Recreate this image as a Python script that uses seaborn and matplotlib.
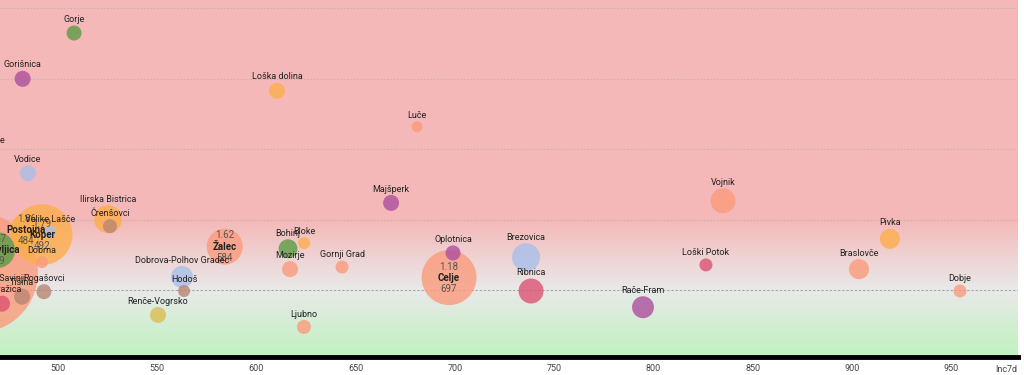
import matplotlib
matplotlib.use("Agg")
import matplotlib.pyplot as plt
from matplotlib import font_manager
from matplotlib.colors import LinearSegmentedColormap
import numpy as np
import pandas as pd
import seaborn as sns

# Data: municipality, 7-day incidence, ratio, bubble size, region
names = ['Velenje', 'Koper', 'Celje', 'Žalec', 'Postojna', 'Radovljica',
         'Ilirska Bistrica', 'Brezovica', 'Vojnik', 'Ribnica',
         'Dobrova-Polhov Gradec', 'Rače-Fram', 'Pivka', 'Braslovče', 'Bohinj',
         'Gorišnica', 'Loška dolina', 'Vodice', 'Majšperk', 'Mozirje',
         'Renče-Vogrsko', 'Gorje', 'Oplotnica', 'Ljubno', 'Rogašovci',
         'Črenšovci', 'Loški Potok', 'Gornji Grad', 'Dobje', 'Hodoš', 'Bloke',
         'Dobrna', 'Velike Lašče', 'Luče', 'Rečica ob Savinji', 'Tišina',
         'Sodražica', 'Moravče']
inc7d = [459.7, 492, 697, 584, 484, 469.3,
         525.2, 735.8, 835.0, 738.3,
         562.5, 794.7, 919.1, 903.5, 615.9,
         482.2, 610.3, 484.9, 667.8, 616.9,
         550.4, 508.1, 699.0, 623.9, 492.9,
         526.2, 826.4, 643.1, 954.4, 563.5, 624.0,
         491.9, 496.0, 680.9, 466.7, 481.9,
         471.8, 464.7]
ratio = [1.25, 1.79, 1.18, 1.62, 1.86, 1.57,
         2.01, 1.47, 2.27, 0.99,
         1.19, 0.76, 1.73, 1.30, 1.59,
         4.00, 3.83, 2.66, 2.24, 1.30,
         0.65, 4.65, 1.53, 0.48, 0.98,
         1.91, 1.36, 1.33, 0.99, 0.99, 1.67,
         1.40, 1.83, 3.32, 0.98, 0.91,
         0.81, 2.96]
size = [233000, 60000, 49000, 21000, 17000, 21000,
        12700, 12700, 10100, 10100,
        7800, 7800, 6500, 6500, 5800,
        4150, 4150, 4150, 4150, 4150,
        4150, 3650, 3650, 3200, 3650,
        3200, 2750, 2750, 2750, 2350, 2350,
        2350, 2350, 1950, 3200, 4150,
        4150, 2350]
region = ['Savinjska', 'Obalno-kraška', 'Savinjska', 'Savinjska', 'Primorsko-notranjska', 'Gorenjska',
          'Primorsko-notranjska', 'Osrednjeslovenska', 'Savinjska', 'Jugovzhodna',
          'Osrednjeslovenska', 'Podravska', 'Primorsko-notranjska', 'Savinjska', 'Gorenjska',
          'Podravska', 'Primorsko-notranjska', 'Osrednjeslovenska', 'Podravska', 'Savinjska',
          'Goriška', 'Gorenjska', 'Podravska', 'Savinjska', 'Pomurska',
          'Pomurska', 'Jugovzhodna', 'Savinjska', 'Savinjska', 'Pomurska', 'Primorsko-notranjska',
          'Savinjska', 'Osrednjeslovenska', 'Savinjska', 'Savinjska', 'Pomurska',
          'Jugovzhodna', 'Osrednjeslovenska']

region_colors = {
    'Savinjska': '#fb9b7c',
    'Primorsko-notranjska': '#fdae4b',
    'Obalno-kraška': '#fdae4b',
    'Gorenjska': '#5a9c45',
    'Podravska': '#ad4f9f',
    'Osrednjeslovenska': '#a9bfe9',
    'Jugovzhodna': '#dd5274',
    'Pomurska': '#b88672',
    'Goriška': '#dcbd55',
}

x_ticks = [500, 550, 600, 650, 700, 750, 800, 850, 900, 950]

df = pd.DataFrame({'name': names, 'Inc7d': inc7d, 'ratio': ratio,
                   'size': size, 'region': region})
df = df.sort_values('size', ascending=False).reset_index(drop=True)

# font: narrow if available
avail = {f.name for f in font_manager.fontManager.ttflist}
fam = 'Liberation Sans Narrow' if 'Liberation Sans Narrow' in avail else 'Roboto'

sns.set_style("white")
plt.rcParams['font.family'] = [fam, 'DejaVu Sans']

fig = plt.figure(figsize=(10.24, 3.75), dpi=100)
ax = fig.add_axes([0, 18 / 375, 1018 / 1024, 357 / 375])

xmin, xmax = 470.8, 983.6
ymin, ymax = 0.054, 5.118

# background gradient: green at bottom, grey at 1, red from 2 up
ys = np.linspace(ymin, ymax, 400)
cmap = LinearSegmentedColormap.from_list('bg', [
    (0.0, '#c0f2c0'),
    ((1.0 - ymin) / (ymax - ymin), '#e9e9e9'),
    ((2.0 - ymin) / (ymax - ymin), '#f5b8b8'),
    (1.0, '#f5b8b8')])
ax.imshow(ys[:, None], extent=[xmin, xmax, ymin, ymax], origin='lower',
          aspect='auto', cmap=cmap, zorder=0)

for g in [2, 3, 4, 5]:
    ax.axhline(g, color='#c4b4b4', lw=0.8, ls=(0, (1.5, 1.5)), zorder=1)
ax.axhline(1, color='#9a9a9a', lw=0.6, ls=(0, (3, 2)), zorder=1)

# bubble area proportional to size
k_px = 0.1242                       # radius px per sqrt(size)
s_per_unit = (1.44 * k_px) ** 2
smax = df['size'].max()
sns.scatterplot(data=df, x='Inc7d', y='ratio', hue='region', palette=region_colors,
                size='size', sizes=(0, smax * s_per_unit), size_norm=(0, smax),
                alpha=0.8, linewidth=0, legend=False, ax=ax, zorder=3)

for _, r in df.iterrows():
    rad_pt = k_px * np.sqrt(r['size']) * 0.72
    if r['size'] >= 15000:
        ax.annotate(f"{r['ratio']:.2f}", (r['Inc7d'], r['ratio']), xytext=(0, 8),
                    textcoords='offset points', ha='center', va='center',
                    fontsize=7, color='#555555', zorder=4, annotation_clip=False,
                    clip_on=True)
        ax.annotate(r['name'], (r['Inc7d'], r['ratio']), xytext=(0, 0),
                    textcoords='offset points', ha='center', va='center',
                    fontsize=7, fontweight='bold', color='#222222', zorder=4,
                    annotation_clip=False, clip_on=True)
        ax.annotate(f"{r['Inc7d']:.0f}", (r['Inc7d'], r['ratio']), xytext=(0, -8),
                    textcoords='offset points', ha='center', va='center',
                    fontsize=7, color='#555555', zorder=4, annotation_clip=False,
                    clip_on=True)
    else:
        ax.annotate(r['name'], (r['Inc7d'], r['ratio']), xytext=(0, rad_pt + 1),
                    textcoords='offset points', ha='center', va='bottom',
                    fontsize=6.5, color='#222222', zorder=4,
                    annotation_clip=False, clip_on=True)

ax.set_xlim(xmin, xmax)
ax.set_ylim(ymin, ymax)
ax.set_xticks(x_ticks)
ax.set_xticklabels([str(t) for t in x_ticks])
ax.set_yticks([])
ax.set_xlabel('')
ax.set_ylabel('')
for s in ['left', 'top', 'right']:
    ax.spines[s].set_visible(False)
ax.spines['bottom'].set_linewidth(3.5)
ax.spines['bottom'].set_color('black')
ax.tick_params(axis='x', length=2, width=0.8, color='#333333', pad=3,
               labelsize=6.5, labelcolor='#444444')
ax.text(0.9885, -0.022, 'Inc7d', transform=ax.transAxes, ha='center', va='top',
        fontsize=6.5, color='#444444')

fig.savefig('out.png', dpi=100)
